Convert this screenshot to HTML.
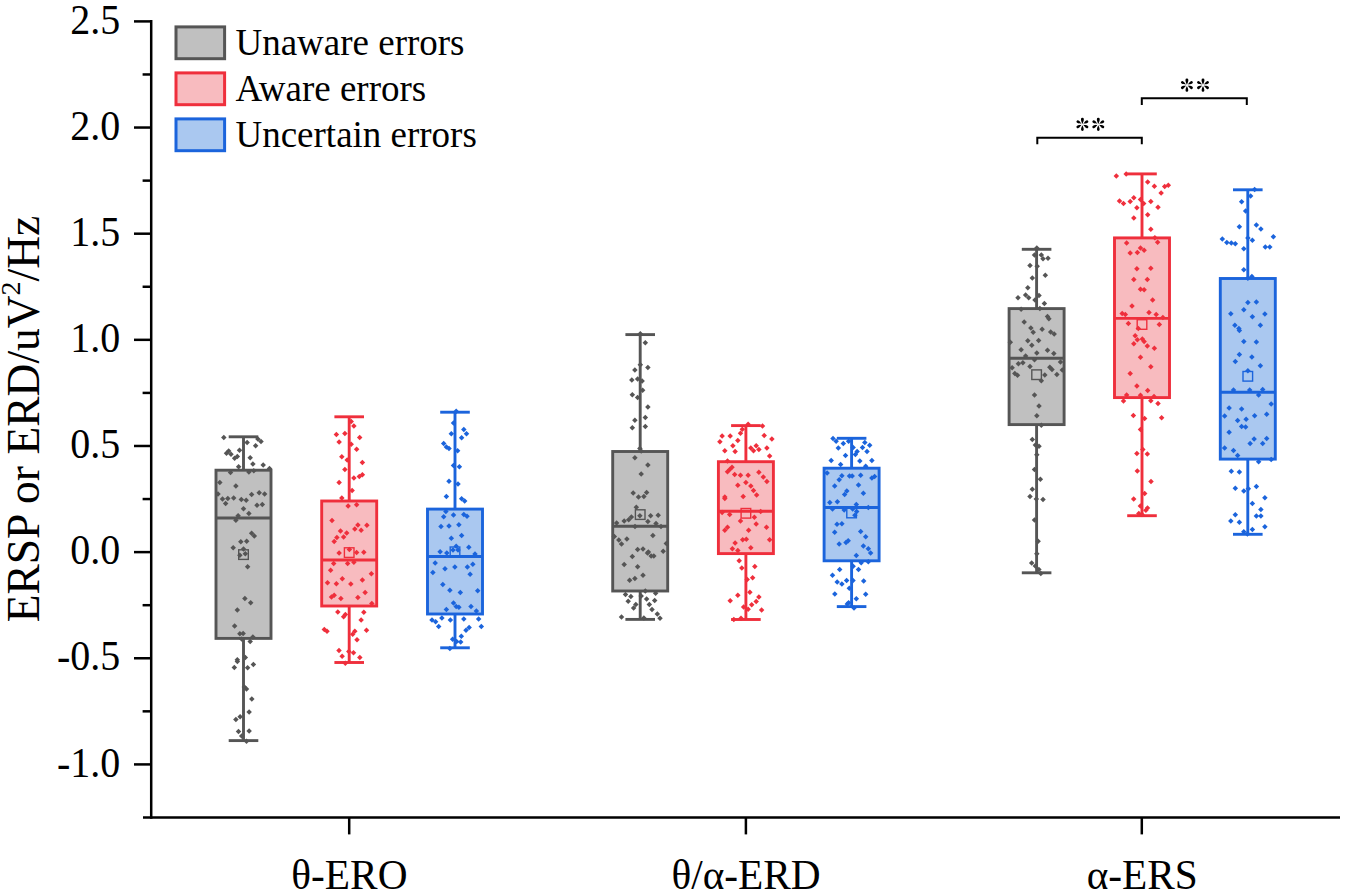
<!DOCTYPE html><html><head><meta charset="utf-8"><style>html,body{margin:0;padding:0;background:#fff;overflow:hidden}svg{display:block}text{font-family:"Liberation Serif",serif;fill:#000}</style></head><body>
<svg width="1350" height="893" viewBox="0 0 1350 893">
<defs><path id="dm" d="M0,-2.75L2.75,0L0,2.75L-2.75,0Z"/><g id="st"><path d="M0,-0.3 C-0.5,-1.8 -1.5,-3.6 -1.45,-5.15 A1.45,1.45 0 0 1 1.45,-5.15 C1.5,-3.6 0.5,-1.8 0,-0.3Z" transform="rotate(0)"/><path d="M0,-1 C-0.5,-2.3 -1.45,-3.9 -1.35,-5.3 A1.35,1.35 0 0 1 1.35,-5.3 C1.45,-3.9 0.5,-2.3 0,-1Z" transform="rotate(60)"/><path d="M0,-1 C-0.5,-2.3 -1.45,-3.9 -1.35,-5.3 A1.35,1.35 0 0 1 1.35,-5.3 C1.45,-3.9 0.5,-2.3 0,-1Z" transform="rotate(120)"/><path d="M0,-1 C-0.5,-2.3 -1.45,-3.9 -1.35,-5.3 A1.35,1.35 0 0 1 1.35,-5.3 C1.45,-3.9 0.5,-2.3 0,-1Z" transform="rotate(180)"/><path d="M0,-1 C-0.5,-2.3 -1.45,-3.9 -1.35,-5.3 A1.35,1.35 0 0 1 1.35,-5.3 C1.45,-3.9 0.5,-2.3 0,-1Z" transform="rotate(240)"/><path d="M0,-1 C-0.5,-2.3 -1.45,-3.9 -1.35,-5.3 A1.35,1.35 0 0 1 1.35,-5.3 C1.45,-3.9 0.5,-2.3 0,-1Z" transform="rotate(300)"/></g></defs>
<g stroke="#555555" stroke-width="2.9" fill="none">
<line x1="243.5" y1="436.8" x2="243.5" y2="740.6"/>
<line x1="228.7" y1="436.8" x2="258.3" y2="436.8"/>
<line x1="228.7" y1="740.6" x2="258.3" y2="740.6"/>
<rect x="216.0" y="470.2" width="55.0" height="168.2" fill="#c0c0c0"/>
<line x1="216.0" y1="518.0" x2="271.0" y2="518.0"/>
</g>
<g fill="#555555"><use href="#dm" x="223.8" y="437.6"/><use href="#dm" x="257.9" y="439"/><use href="#dm" x="261" y="441.6"/><use href="#dm" x="247.1" y="442.5"/><use href="#dm" x="255.6" y="445.7"/><use href="#dm" x="239.5" y="450.2"/><use href="#dm" x="228.7" y="451.1"/><use href="#dm" x="226.5" y="453.3"/><use href="#dm" x="231" y="454.2"/><use href="#dm" x="234.6" y="458.2"/><use href="#dm" x="237.3" y="456.4"/><use href="#dm" x="250.2" y="457.8"/><use href="#dm" x="252.9" y="464"/><use href="#dm" x="263.2" y="464.9"/><use href="#dm" x="238.6" y="466.7"/><use href="#dm" x="269.5" y="468.5"/><use href="#dm" x="230.5" y="472.6"/><use href="#dm" x="248.9" y="472.1"/><use href="#dm" x="253.8" y="470.8"/><use href="#dm" x="219.8" y="482.4"/><use href="#dm" x="235.9" y="486"/><use href="#dm" x="218" y="494"/><use href="#dm" x="251.6" y="494.5"/><use href="#dm" x="259.2" y="492.7"/><use href="#dm" x="264.6" y="494"/><use href="#dm" x="222.5" y="499"/><use href="#dm" x="227.8" y="498.5"/><use href="#dm" x="233.7" y="498.1"/><use href="#dm" x="225.6" y="503.5"/><use href="#dm" x="241.3" y="499.4"/><use href="#dm" x="246.2" y="500.3"/><use href="#dm" x="257" y="505.3"/><use href="#dm" x="262.3" y="504.4"/><use href="#dm" x="243.5" y="508.8"/><use href="#dm" x="248.9" y="513.5"/><use href="#dm" x="238.1" y="515.7"/><use href="#dm" x="235.9" y="520.2"/><use href="#dm" x="251.6" y="533.2"/><use href="#dm" x="254.3" y="535.9"/><use href="#dm" x="240.8" y="541.7"/><use href="#dm" x="246.7" y="541.3"/><use href="#dm" x="233.2" y="547.8"/><use href="#dm" x="243.5" y="548.9"/><use href="#dm" x="239.9" y="555.2"/><use href="#dm" x="245.3" y="553.8"/><use href="#dm" x="247.6" y="566.8"/><use href="#dm" x="244.9" y="598.4"/><use href="#dm" x="250.7" y="602.8"/><use href="#dm" x="237.3" y="610"/><use href="#dm" x="234.6" y="626.1"/><use href="#dm" x="239.9" y="633.8"/><use href="#dm" x="243.1" y="633.6"/><use href="#dm" x="252.9" y="636.9"/><use href="#dm" x="250.2" y="641.4"/><use href="#dm" x="241.7" y="639.1"/><use href="#dm" x="245.3" y="657.5"/><use href="#dm" x="237.3" y="659.7"/><use href="#dm" x="237.4" y="661.4"/><use href="#dm" x="234.3" y="667.6"/><use href="#dm" x="247.6" y="667.8"/><use href="#dm" x="253.4" y="664.4"/><use href="#dm" x="244.4" y="686.9"/><use href="#dm" x="246.5" y="689"/><use href="#dm" x="251.8" y="699.1"/><use href="#dm" x="249.1" y="711.9"/><use href="#dm" x="235.9" y="719.4"/><use href="#dm" x="240.1" y="716.7"/><use href="#dm" x="238.5" y="731.6"/><use href="#dm" x="249.1" y="731.1"/><use href="#dm" x="241.7" y="735.9"/><use href="#dm" x="246.5" y="741.2"/></g>
<rect x="238.7" y="549.8" width="9.6" height="9.6" fill="none" stroke="#555555" stroke-width="1.4"/>
<g stroke="#ef2f3c" stroke-width="2.9" fill="none">
<line x1="349.2" y1="416.8" x2="349.2" y2="662.5"/>
<line x1="334.4" y1="416.8" x2="364.0" y2="416.8"/>
<line x1="334.4" y1="662.5" x2="364.0" y2="662.5"/>
<rect x="321.7" y="501.0" width="55.0" height="105.0" fill="#f8bbbf"/>
<line x1="321.7" y1="560.0" x2="376.7" y2="560.0"/>
</g>
<g fill="#ef2f3c"><use href="#dm" x="351.2" y="421.4"/><use href="#dm" x="353.9" y="425.9"/><use href="#dm" x="336.4" y="434.4"/><use href="#dm" x="344.9" y="433.5"/><use href="#dm" x="359.7" y="437.6"/><use href="#dm" x="339.1" y="442"/><use href="#dm" x="351.2" y="444.3"/><use href="#dm" x="356.6" y="449.2"/><use href="#dm" x="341.8" y="456.8"/><use href="#dm" x="347.2" y="460"/><use href="#dm" x="362.4" y="462.6"/><use href="#dm" x="344.9" y="469.4"/><use href="#dm" x="353.9" y="477.9"/><use href="#dm" x="359.3" y="476.5"/><use href="#dm" x="362.4" y="474.7"/><use href="#dm" x="339.1" y="482.4"/><use href="#dm" x="352.1" y="490.4"/><use href="#dm" x="341.8" y="498"/><use href="#dm" x="348.1" y="506.1"/><use href="#dm" x="356.6" y="504.7"/><use href="#dm" x="332" y="520.4"/><use href="#dm" x="357.9" y="524.9"/><use href="#dm" x="366.9" y="525.3"/><use href="#dm" x="354.8" y="528.9"/><use href="#dm" x="361.1" y="530.2"/><use href="#dm" x="340.5" y="531.1"/><use href="#dm" x="346.7" y="532.9"/><use href="#dm" x="343.6" y="537"/><use href="#dm" x="336.9" y="537.4"/><use href="#dm" x="334.2" y="541.4"/><use href="#dm" x="339.1" y="553.1"/><use href="#dm" x="349.4" y="549.5"/><use href="#dm" x="356.6" y="552.6"/><use href="#dm" x="363.8" y="552.2"/><use href="#dm" x="333.7" y="563.5"/><use href="#dm" x="347.6" y="563.5"/><use href="#dm" x="353.9" y="562.2"/><use href="#dm" x="330.6" y="570.2"/><use href="#dm" x="371.4" y="573.8"/><use href="#dm" x="342.3" y="578.7"/><use href="#dm" x="362.4" y="580.1"/><use href="#dm" x="327.5" y="582.8"/><use href="#dm" x="336.4" y="583.7"/><use href="#dm" x="350.8" y="584.1"/><use href="#dm" x="365.1" y="592.6"/><use href="#dm" x="334.2" y="595.3"/><use href="#dm" x="331.5" y="597.1"/><use href="#dm" x="340.9" y="598.5"/><use href="#dm" x="357.9" y="597.6"/><use href="#dm" x="371.8" y="603.4"/><use href="#dm" x="337.8" y="611.9"/><use href="#dm" x="345.4" y="614.6"/><use href="#dm" x="343.6" y="616.8"/><use href="#dm" x="363.8" y="612.3"/><use href="#dm" x="361.1" y="620"/><use href="#dm" x="324.3" y="629.4"/><use href="#dm" x="327" y="631.2"/><use href="#dm" x="354.8" y="631.2"/><use href="#dm" x="366.5" y="630.3"/><use href="#dm" x="352.7" y="634.3"/><use href="#dm" x="357" y="639.8"/><use href="#dm" x="339" y="650.4"/><use href="#dm" x="348.8" y="651.5"/><use href="#dm" x="353.5" y="652.7"/><use href="#dm" x="342.1" y="656.2"/><use href="#dm" x="359.8" y="657.4"/><use href="#dm" x="345.3" y="663.3"/></g>
<rect x="344.4" y="547.8" width="9.6" height="9.6" fill="none" stroke="#ef2f3c" stroke-width="1.4"/>
<g stroke="#1b64dc" stroke-width="2.9" fill="none">
<line x1="455.0" y1="412.2" x2="455.0" y2="647.8"/>
<line x1="440.2" y1="412.2" x2="469.8" y2="412.2"/>
<line x1="440.2" y1="647.8" x2="469.8" y2="647.8"/>
<rect x="427.5" y="509.1" width="55.0" height="104.89999999999998" fill="#aac8f0"/>
<line x1="427.5" y1="556.5" x2="482.5" y2="556.5"/>
</g>
<g fill="#1b64dc"><use href="#dm" x="456.2" y="411.3"/><use href="#dm" x="453.5" y="422.9"/><use href="#dm" x="451.3" y="433.7"/><use href="#dm" x="463.8" y="429.6"/><use href="#dm" x="466.5" y="433.7"/><use href="#dm" x="461.6" y="437.7"/><use href="#dm" x="443.7" y="443.5"/><use href="#dm" x="446.4" y="447.1"/><use href="#dm" x="449" y="448.5"/><use href="#dm" x="457.6" y="450.7"/><use href="#dm" x="453.5" y="465.5"/><use href="#dm" x="459.4" y="466.8"/><use href="#dm" x="449" y="481.2"/><use href="#dm" x="458" y="483.9"/><use href="#dm" x="446.4" y="496.6"/><use href="#dm" x="461.6" y="498.8"/><use href="#dm" x="464.7" y="501.1"/><use href="#dm" x="445.9" y="511.4"/><use href="#dm" x="443.7" y="516.7"/><use href="#dm" x="453.5" y="514.9"/><use href="#dm" x="463.8" y="514.5"/><use href="#dm" x="467" y="516.3"/><use href="#dm" x="441" y="526.6"/><use href="#dm" x="449" y="526.1"/><use href="#dm" x="458.9" y="524.8"/><use href="#dm" x="461.6" y="535.6"/><use href="#dm" x="451.3" y="538.2"/><use href="#dm" x="456.2" y="546.3"/><use href="#dm" x="468.8" y="547.2"/><use href="#dm" x="440.1" y="551.7"/><use href="#dm" x="446.8" y="553"/><use href="#dm" x="453" y="550"/><use href="#dm" x="458" y="550"/><use href="#dm" x="475" y="553.9"/><use href="#dm" x="435.2" y="563"/><use href="#dm" x="445" y="568.8"/><use href="#dm" x="454.9" y="567"/><use href="#dm" x="467.4" y="567"/><use href="#dm" x="472.8" y="564.3"/><use href="#dm" x="432.9" y="572.4"/><use href="#dm" x="470.1" y="574.2"/><use href="#dm" x="442.8" y="584.5"/><use href="#dm" x="449.9" y="590.3"/><use href="#dm" x="460.3" y="592.6"/><use href="#dm" x="477.7" y="590.8"/><use href="#dm" x="453.5" y="602.9"/><use href="#dm" x="456.2" y="606.5"/><use href="#dm" x="458.9" y="607.3"/><use href="#dm" x="471" y="606.5"/><use href="#dm" x="446.4" y="609.6"/><use href="#dm" x="476.4" y="610.9"/><use href="#dm" x="432" y="619.9"/><use href="#dm" x="435.6" y="621.7"/><use href="#dm" x="441.9" y="618.1"/><use href="#dm" x="450.4" y="619.9"/><use href="#dm" x="463.8" y="619"/><use href="#dm" x="478.6" y="619"/><use href="#dm" x="438.7" y="626.6"/><use href="#dm" x="481.3" y="626.6"/><use href="#dm" x="469.1" y="627.5"/><use href="#dm" x="466" y="630.2"/><use href="#dm" x="461.3" y="636.3"/><use href="#dm" x="452.6" y="639.3"/><use href="#dm" x="456.6" y="641.6"/><use href="#dm" x="460.7" y="642"/><use href="#dm" x="449.9" y="648.4"/></g>
<rect x="450.2" y="547.0" width="9.6" height="9.6" fill="none" stroke="#1b64dc" stroke-width="1.4"/>
<g stroke="#555555" stroke-width="2.9" fill="none">
<line x1="640.2" y1="334.6" x2="640.2" y2="619.4"/>
<line x1="625.4000000000001" y1="334.6" x2="655.0" y2="334.6"/>
<line x1="625.4000000000001" y1="619.4" x2="655.0" y2="619.4"/>
<rect x="612.7" y="451.5" width="55.0" height="139.5" fill="#c0c0c0"/>
<line x1="612.7" y1="526.2" x2="667.7" y2="526.2"/>
</g>
<g fill="#555555"><use href="#dm" x="640.3" y="333.8"/><use href="#dm" x="645.3" y="342.8"/><use href="#dm" x="640.3" y="364.7"/><use href="#dm" x="647.9" y="367.4"/><use href="#dm" x="634.9" y="370.1"/><use href="#dm" x="631.8" y="380"/><use href="#dm" x="637.6" y="379.1"/><use href="#dm" x="642.1" y="380.9"/><use href="#dm" x="642.6" y="390.3"/><use href="#dm" x="632.3" y="394.8"/><use href="#dm" x="637.6" y="397.4"/><use href="#dm" x="647.9" y="406.9"/><use href="#dm" x="645.3" y="417.5"/><use href="#dm" x="634.9" y="420.2"/><use href="#dm" x="632.3" y="427.8"/><use href="#dm" x="645.3" y="426.4"/><use href="#dm" x="639.9" y="448.4"/><use href="#dm" x="641.2" y="451.1"/><use href="#dm" x="634.9" y="457.8"/><use href="#dm" x="647.9" y="465"/><use href="#dm" x="641.2" y="473.9"/><use href="#dm" x="633.2" y="492.9"/><use href="#dm" x="646.6" y="492.5"/><use href="#dm" x="643.9" y="496.5"/><use href="#dm" x="638.5" y="497"/><use href="#dm" x="636.3" y="507.3"/><use href="#dm" x="639.9" y="515.8"/><use href="#dm" x="650.6" y="515.8"/><use href="#dm" x="658.2" y="515.3"/><use href="#dm" x="624.2" y="521.1"/><use href="#dm" x="628.7" y="519.8"/><use href="#dm" x="631.4" y="517.1"/><use href="#dm" x="616.6" y="522.9"/><use href="#dm" x="647.9" y="521.6"/><use href="#dm" x="656" y="523.4"/><use href="#dm" x="635" y="526.5"/><use href="#dm" x="661" y="526.5"/><use href="#dm" x="614.3" y="536.4"/><use href="#dm" x="652.9" y="535.5"/><use href="#dm" x="618.8" y="540"/><use href="#dm" x="621.5" y="544"/><use href="#dm" x="626.9" y="539.1"/><use href="#dm" x="666.3" y="543.5"/><use href="#dm" x="637.6" y="549.4"/><use href="#dm" x="643" y="548.9"/><use href="#dm" x="648.4" y="552.1"/><use href="#dm" x="663.2" y="551.2"/><use href="#dm" x="647.5" y="552.9"/><use href="#dm" x="651.1" y="556.1"/><use href="#dm" x="653.8" y="556.1"/><use href="#dm" x="632.3" y="556.5"/><use href="#dm" x="624.2" y="564.6"/><use href="#dm" x="637.6" y="566.8"/><use href="#dm" x="643" y="575.3"/><use href="#dm" x="634.9" y="578.5"/><use href="#dm" x="629.6" y="580.3"/><use href="#dm" x="625.5" y="594.6"/><use href="#dm" x="630.9" y="596.4"/><use href="#dm" x="645.3" y="591"/><use href="#dm" x="655.6" y="593.3"/><use href="#dm" x="641.2" y="596"/><use href="#dm" x="646.6" y="599.1"/><use href="#dm" x="654.7" y="600.4"/><use href="#dm" x="628.2" y="601.3"/><use href="#dm" x="635.8" y="604.5"/><use href="#dm" x="633.6" y="608"/><use href="#dm" x="649.3" y="604.5"/><use href="#dm" x="652" y="609.4"/><use href="#dm" x="657.3" y="613.9"/><use href="#dm" x="660" y="618.3"/><use href="#dm" x="621.5" y="617"/><use href="#dm" x="643.9" y="617.9"/></g>
<rect x="635.4" y="509.8" width="9.6" height="9.6" fill="none" stroke="#555555" stroke-width="1.4"/>
<g stroke="#ef2f3c" stroke-width="2.9" fill="none">
<line x1="745.9" y1="425.6" x2="745.9" y2="619.5"/>
<line x1="731.1" y1="425.6" x2="760.6999999999999" y2="425.6"/>
<line x1="731.1" y1="619.5" x2="760.6999999999999" y2="619.5"/>
<rect x="718.4" y="461.7" width="55.0" height="91.90000000000003" fill="#f8bbbf"/>
<line x1="718.4" y1="511.3" x2="773.4" y2="511.3"/>
</g>
<g fill="#ef2f3c"><use href="#dm" x="762.5" y="425.9"/><use href="#dm" x="748.1" y="424.3"/><use href="#dm" x="742.3" y="429.2"/><use href="#dm" x="740.5" y="433.2"/><use href="#dm" x="722.1" y="435.9"/><use href="#dm" x="730.2" y="435.9"/><use href="#dm" x="764.2" y="435.5"/><use href="#dm" x="771.9" y="439.1"/><use href="#dm" x="719.9" y="441.7"/><use href="#dm" x="737.8" y="440.4"/><use href="#dm" x="732.9" y="445.8"/><use href="#dm" x="750.8" y="448"/><use href="#dm" x="756.2" y="445.8"/><use href="#dm" x="758.9" y="449.4"/><use href="#dm" x="753.5" y="450.7"/><use href="#dm" x="766.9" y="448"/><use href="#dm" x="724.8" y="450.7"/><use href="#dm" x="735.1" y="451.6"/><use href="#dm" x="769.6" y="456.1"/><use href="#dm" x="727.5" y="461"/><use href="#dm" x="732" y="467.3"/><use href="#dm" x="729.7" y="469.5"/><use href="#dm" x="727.5" y="471.8"/><use href="#dm" x="734.7" y="474.5"/><use href="#dm" x="740.5" y="475.3"/><use href="#dm" x="748.1" y="475.3"/><use href="#dm" x="758.9" y="472.2"/><use href="#dm" x="763.3" y="477.1"/><use href="#dm" x="766.9" y="481.6"/><use href="#dm" x="745.9" y="482.5"/><use href="#dm" x="737.8" y="485.2"/><use href="#dm" x="750.8" y="486.1"/><use href="#dm" x="753.5" y="490.6"/><use href="#dm" x="756.6" y="495.1"/><use href="#dm" x="743.2" y="496.4"/><use href="#dm" x="724.8" y="496.9"/><use href="#dm" x="724.8" y="498.5"/><use href="#dm" x="722.1" y="512.4"/><use href="#dm" x="729.7" y="514.6"/><use href="#dm" x="760.7" y="511.5"/><use href="#dm" x="754.4" y="517.3"/><use href="#dm" x="740.5" y="520.9"/><use href="#dm" x="756.2" y="524"/><use href="#dm" x="766.5" y="527.2"/><use href="#dm" x="727.5" y="527.2"/><use href="#dm" x="724.8" y="530.3"/><use href="#dm" x="748.6" y="530.3"/><use href="#dm" x="742.7" y="539.7"/><use href="#dm" x="746.3" y="539.3"/><use href="#dm" x="769.6" y="539.7"/><use href="#dm" x="735.1" y="542.9"/><use href="#dm" x="732.4" y="548.7"/><use href="#dm" x="750.8" y="547.8"/><use href="#dm" x="737.8" y="550.5"/><use href="#dm" x="739.2" y="560.8"/><use href="#dm" x="741.8" y="568"/><use href="#dm" x="754.8" y="566.6"/><use href="#dm" x="752.6" y="577.8"/><use href="#dm" x="747.2" y="579.6"/><use href="#dm" x="749.9" y="592.2"/><use href="#dm" x="737.8" y="595.3"/><use href="#dm" x="730.2" y="600.7"/><use href="#dm" x="758.9" y="597.1"/><use href="#dm" x="756.2" y="601.6"/><use href="#dm" x="751.7" y="604.7"/><use href="#dm" x="743.6" y="607"/><use href="#dm" x="748.1" y="609.2"/><use href="#dm" x="761.6" y="610.1"/><use href="#dm" x="733.8" y="619.5"/><use href="#dm" x="741" y="618.2"/></g>
<rect x="741.1" y="508.5" width="9.6" height="9.6" fill="none" stroke="#ef2f3c" stroke-width="1.4"/>
<g stroke="#1b64dc" stroke-width="2.9" fill="none">
<line x1="851.6" y1="438.3" x2="851.6" y2="606.6"/>
<line x1="836.8000000000001" y1="438.3" x2="866.4" y2="438.3"/>
<line x1="836.8000000000001" y1="606.6" x2="866.4" y2="606.6"/>
<rect x="824.1" y="468.2" width="55.0" height="92.59999999999997" fill="#aac8f0"/>
<line x1="824.1" y1="507.5" x2="879.1" y2="507.5"/>
</g>
<g fill="#1b64dc"><use href="#dm" x="833" y="438.5"/><use href="#dm" x="836.1" y="441.2"/><use href="#dm" x="843.3" y="443.4"/><use href="#dm" x="838.3" y="447.9"/><use href="#dm" x="848.6" y="441.2"/><use href="#dm" x="853.1" y="447.5"/><use href="#dm" x="864.8" y="442.5"/><use href="#dm" x="869.7" y="445.2"/><use href="#dm" x="862.5" y="447.5"/><use href="#dm" x="857.1" y="451.5"/><use href="#dm" x="855.4" y="454.6"/><use href="#dm" x="867" y="451.5"/><use href="#dm" x="845.5" y="455.5"/><use href="#dm" x="831.2" y="460.5"/><use href="#dm" x="859.8" y="460.9"/><use href="#dm" x="871.9" y="460.5"/><use href="#dm" x="840.6" y="464.5"/><use href="#dm" x="865.7" y="466.3"/><use href="#dm" x="827.1" y="473"/><use href="#dm" x="841.9" y="475.7"/><use href="#dm" x="839.2" y="479.7"/><use href="#dm" x="849.5" y="476.1"/><use href="#dm" x="852.2" y="476.1"/><use href="#dm" x="860.7" y="475.3"/><use href="#dm" x="871.9" y="477.9"/><use href="#dm" x="874.6" y="476.6"/><use href="#dm" x="834.7" y="486"/><use href="#dm" x="858.5" y="485.1"/><use href="#dm" x="846.8" y="490.9"/><use href="#dm" x="844.6" y="494.5"/><use href="#dm" x="863.4" y="493.2"/><use href="#dm" x="829.8" y="502.6"/><use href="#dm" x="837.4" y="501.7"/><use href="#dm" x="856.3" y="504.4"/><use href="#dm" x="832.5" y="509"/><use href="#dm" x="844.2" y="509.9"/><use href="#dm" x="852.7" y="509"/><use href="#dm" x="856.7" y="511.6"/><use href="#dm" x="854.9" y="515.2"/><use href="#dm" x="868.3" y="507.6"/><use href="#dm" x="837" y="524.2"/><use href="#dm" x="841.9" y="523.7"/><use href="#dm" x="834.7" y="532.3"/><use href="#dm" x="860.7" y="531.4"/><use href="#dm" x="865.7" y="536.7"/><use href="#dm" x="848.2" y="540.8"/><use href="#dm" x="846" y="542.5"/><use href="#dm" x="839.2" y="543.9"/><use href="#dm" x="863.4" y="546.1"/><use href="#dm" x="868.3" y="548.8"/><use href="#dm" x="870.6" y="552.9"/><use href="#dm" x="856.3" y="555.6"/><use href="#dm" x="861.2" y="562.7"/><use href="#dm" x="868.3" y="561.8"/><use href="#dm" x="853.1" y="566.3"/><use href="#dm" x="858.5" y="569.4"/><use href="#dm" x="839.7" y="569.4"/><use href="#dm" x="832.5" y="575.3"/><use href="#dm" x="837.2" y="581.9"/><use href="#dm" x="841.9" y="583.9"/><use href="#dm" x="846.6" y="580.5"/><use href="#dm" x="853" y="580.5"/><use href="#dm" x="863.7" y="580.9"/><use href="#dm" x="849.3" y="588.2"/><use href="#dm" x="834.8" y="594"/><use href="#dm" x="865.7" y="594.3"/><use href="#dm" x="856.3" y="598.7"/><use href="#dm" x="848.6" y="602.7"/><use href="#dm" x="847.3" y="604"/><use href="#dm" x="854" y="608.1"/></g>
<rect x="846.8" y="508.2" width="9.6" height="9.6" fill="none" stroke="#1b64dc" stroke-width="1.4"/>
<g stroke="#555555" stroke-width="2.9" fill="none">
<line x1="1036.6" y1="249.3" x2="1036.6" y2="572.8"/>
<line x1="1021.8" y1="249.3" x2="1051.3999999999999" y2="249.3"/>
<line x1="1021.8" y1="572.8" x2="1051.3999999999999" y2="572.8"/>
<rect x="1009.0999999999999" y="308.6" width="55.0" height="116.0" fill="#c0c0c0"/>
<line x1="1009.0999999999999" y1="358.2" x2="1064.1" y2="358.2"/>
</g>
<g fill="#555555"><use href="#dm" x="1036.8" y="247.9"/><use href="#dm" x="1034.5" y="255.1"/><use href="#dm" x="1041.3" y="255.1"/><use href="#dm" x="1043" y="258.7"/><use href="#dm" x="1048" y="258.2"/><use href="#dm" x="1030" y="265.4"/><use href="#dm" x="1037.2" y="266.3"/><use href="#dm" x="1045.3" y="275.3"/><use href="#dm" x="1032.3" y="278"/><use href="#dm" x="1027.8" y="287.8"/><use href="#dm" x="1025.6" y="295"/><use href="#dm" x="1028.7" y="297.7"/><use href="#dm" x="1018" y="297.7"/><use href="#dm" x="1039" y="295.4"/><use href="#dm" x="1035" y="299.9"/><use href="#dm" x="1044.4" y="303.5"/><use href="#dm" x="1021.1" y="309.3"/><use href="#dm" x="1039.9" y="308.4"/><use href="#dm" x="1047.5" y="316.5"/><use href="#dm" x="1048.9" y="318.7"/><use href="#dm" x="1024.2" y="321.9"/><use href="#dm" x="1030.9" y="327.9"/><use href="#dm" x="1033.2" y="332.3"/><use href="#dm" x="1042.1" y="329.2"/><use href="#dm" x="1050.7" y="331.9"/><use href="#dm" x="1054.2" y="334.1"/><use href="#dm" x="1027.8" y="340.8"/><use href="#dm" x="1038.6" y="340.4"/><use href="#dm" x="1031.8" y="345.3"/><use href="#dm" x="1010.3" y="342.2"/><use href="#dm" x="1021.1" y="349.8"/><use href="#dm" x="1047.5" y="350.3"/><use href="#dm" x="1036.8" y="352.9"/><use href="#dm" x="1053.8" y="353.4"/><use href="#dm" x="1025.6" y="356.1"/><use href="#dm" x="1034.5" y="359.7"/><use href="#dm" x="1018.4" y="363.7"/><use href="#dm" x="1022.9" y="362.8"/><use href="#dm" x="1030" y="366.4"/><use href="#dm" x="1012.1" y="367.7"/><use href="#dm" x="1060.5" y="361.9"/><use href="#dm" x="1049.8" y="367.3"/><use href="#dm" x="1052" y="369.5"/><use href="#dm" x="1014.8" y="373.6"/><use href="#dm" x="1017.5" y="375.3"/><use href="#dm" x="1044.8" y="374.9"/><use href="#dm" x="1056.9" y="374.5"/><use href="#dm" x="1062.3" y="370"/><use href="#dm" x="1041.3" y="380.7"/><use href="#dm" x="1034.5" y="395.1"/><use href="#dm" x="1039" y="406"/><use href="#dm" x="1036.8" y="415.8"/><use href="#dm" x="1041.3" y="425.3"/><use href="#dm" x="1032.3" y="439.6"/><use href="#dm" x="1035.4" y="445"/><use href="#dm" x="1039" y="446.3"/><use href="#dm" x="1036.8" y="454.8"/><use href="#dm" x="1034.5" y="469.6"/><use href="#dm" x="1040.4" y="479.3"/><use href="#dm" x="1032.3" y="489.2"/><use href="#dm" x="1030" y="496.4"/><use href="#dm" x="1036.3" y="499"/><use href="#dm" x="1043" y="499.5"/><use href="#dm" x="1034.5" y="520.1"/><use href="#dm" x="1038.1" y="541.2"/><use href="#dm" x="1036.8" y="553.8"/><use href="#dm" x="1031.7" y="562.9"/><use href="#dm" x="1035.3" y="565.9"/><use href="#dm" x="1038.9" y="569.5"/><use href="#dm" x="1040.8" y="573.5"/></g>
<rect x="1031.8" y="369.9" width="9.6" height="9.6" fill="none" stroke="#555555" stroke-width="1.4"/>
<g stroke="#ef2f3c" stroke-width="2.9" fill="none">
<line x1="1142.0" y1="173.9" x2="1142.0" y2="515.7"/>
<line x1="1127.2" y1="173.9" x2="1156.8" y2="173.9"/>
<line x1="1127.2" y1="515.7" x2="1156.8" y2="515.7"/>
<rect x="1114.5" y="237.9" width="55.0" height="159.70000000000002" fill="#f8bbbf"/>
<line x1="1114.5" y1="318.4" x2="1169.5" y2="318.4"/>
</g>
<g fill="#ef2f3c"><use href="#dm" x="1116.3" y="175.9"/><use href="#dm" x="1126.2" y="173.9"/><use href="#dm" x="1147.7" y="182.1"/><use href="#dm" x="1154.4" y="186.2"/><use href="#dm" x="1164.7" y="186.6"/><use href="#dm" x="1168.3" y="185.3"/><use href="#dm" x="1161.1" y="192.9"/><use href="#dm" x="1119.5" y="200.9"/><use href="#dm" x="1123.5" y="203.6"/><use href="#dm" x="1130.2" y="201.4"/><use href="#dm" x="1133.8" y="197.8"/><use href="#dm" x="1140.5" y="199.6"/><use href="#dm" x="1143.7" y="203.6"/><use href="#dm" x="1150.8" y="201.4"/><use href="#dm" x="1136.9" y="207.7"/><use href="#dm" x="1158" y="207.2"/><use href="#dm" x="1147.7" y="214.8"/><use href="#dm" x="1133.8" y="218"/><use href="#dm" x="1150.8" y="229.2"/><use href="#dm" x="1154.9" y="237.7"/><use href="#dm" x="1157.6" y="242.2"/><use href="#dm" x="1126.6" y="243.1"/><use href="#dm" x="1140.5" y="248.1"/><use href="#dm" x="1144.1" y="250.3"/><use href="#dm" x="1130.2" y="253"/><use href="#dm" x="1137.4" y="252.5"/><use href="#dm" x="1136.9" y="268.7"/><use href="#dm" x="1150.8" y="268.2"/><use href="#dm" x="1133.8" y="279.4"/><use href="#dm" x="1147.3" y="279.4"/><use href="#dm" x="1140.5" y="289.3"/><use href="#dm" x="1144.1" y="289.7"/><use href="#dm" x="1152.6" y="300"/><use href="#dm" x="1132" y="305.9"/><use href="#dm" x="1122.2" y="313.5"/><use href="#dm" x="1125.3" y="314.4"/><use href="#dm" x="1149" y="312.6"/><use href="#dm" x="1156.2" y="314.4"/><use href="#dm" x="1162.9" y="317.5"/><use href="#dm" x="1128.4" y="323.6"/><use href="#dm" x="1159.3" y="324.5"/><use href="#dm" x="1138.3" y="328.6"/><use href="#dm" x="1135.2" y="335.7"/><use href="#dm" x="1137.4" y="339.8"/><use href="#dm" x="1133.8" y="343.8"/><use href="#dm" x="1142.3" y="338.9"/><use href="#dm" x="1144.1" y="341.6"/><use href="#dm" x="1147.3" y="346"/><use href="#dm" x="1154.4" y="348.3"/><use href="#dm" x="1140.5" y="357.3"/><use href="#dm" x="1150.8" y="366.7"/><use href="#dm" x="1130.2" y="373.4"/><use href="#dm" x="1136.9" y="385.9"/><use href="#dm" x="1147.7" y="390.4"/><use href="#dm" x="1126.6" y="394.9"/><use href="#dm" x="1140.5" y="395.3"/><use href="#dm" x="1154" y="396.6"/><use href="#dm" x="1123.5" y="401.1"/><use href="#dm" x="1150.8" y="400.7"/><use href="#dm" x="1158" y="403.4"/><use href="#dm" x="1133.4" y="415.5"/><use href="#dm" x="1144.6" y="418.6"/><use href="#dm" x="1161.6" y="417.7"/><use href="#dm" x="1140.5" y="429.4"/><use href="#dm" x="1136.9" y="453.5"/><use href="#dm" x="1147.3" y="454"/><use href="#dm" x="1142.8" y="449.5"/><use href="#dm" x="1137.3" y="471.1"/><use href="#dm" x="1151" y="481.6"/><use href="#dm" x="1144.7" y="493.4"/><use href="#dm" x="1133.7" y="498.9"/><use href="#dm" x="1140.4" y="505.9"/><use href="#dm" x="1147.5" y="507.9"/><use href="#dm" x="1145.9" y="510.3"/><use href="#dm" x="1138.8" y="513.4"/><use href="#dm" x="1142" y="514.6"/></g>
<rect x="1137.2" y="319.7" width="9.6" height="9.6" fill="none" stroke="#ef2f3c" stroke-width="1.4"/>
<g stroke="#1b64dc" stroke-width="2.9" fill="none">
<line x1="1247.8" y1="189.8" x2="1247.8" y2="534.3"/>
<line x1="1233.0" y1="189.8" x2="1262.6" y2="189.8"/>
<line x1="1233.0" y1="534.3" x2="1262.6" y2="534.3"/>
<rect x="1220.3" y="278.5" width="55.0" height="180.60000000000002" fill="#aac8f0"/>
<line x1="1220.3" y1="392.2" x2="1275.3" y2="392.2"/>
</g>
<g fill="#1b64dc"><use href="#dm" x="1254.6" y="189.6"/><use href="#dm" x="1250.6" y="195.9"/><use href="#dm" x="1241.6" y="201.7"/><use href="#dm" x="1245.6" y="211.1"/><use href="#dm" x="1239.4" y="226.8"/><use href="#dm" x="1256.4" y="225"/><use href="#dm" x="1260.9" y="229"/><use href="#dm" x="1273.4" y="236.7"/><use href="#dm" x="1222.3" y="238.9"/><use href="#dm" x="1226.8" y="242.5"/><use href="#dm" x="1231.3" y="242.9"/><use href="#dm" x="1235.3" y="243.8"/><use href="#dm" x="1247.9" y="238"/><use href="#dm" x="1252.4" y="240.2"/><use href="#dm" x="1243.8" y="248.8"/><use href="#dm" x="1265.3" y="247"/><use href="#dm" x="1269.8" y="247"/><use href="#dm" x="1243.8" y="269.8"/><use href="#dm" x="1247.9" y="278.3"/><use href="#dm" x="1251.9" y="276.5"/><use href="#dm" x="1247.9" y="302.5"/><use href="#dm" x="1256.4" y="302"/><use href="#dm" x="1243.8" y="309.7"/><use href="#dm" x="1230.8" y="313.7"/><use href="#dm" x="1252.4" y="316.8"/><use href="#dm" x="1264.9" y="314.1"/><use href="#dm" x="1234.9" y="325.3"/><use href="#dm" x="1238.9" y="328.5"/><use href="#dm" x="1260.4" y="325.3"/><use href="#dm" x="1239.4" y="330.4"/><use href="#dm" x="1243.8" y="341.6"/><use href="#dm" x="1256.4" y="342.1"/><use href="#dm" x="1239.4" y="354.6"/><use href="#dm" x="1251.9" y="356.9"/><use href="#dm" x="1235.3" y="361.4"/><use href="#dm" x="1260.4" y="365.8"/><use href="#dm" x="1247.9" y="370.8"/><use href="#dm" x="1233.5" y="390"/><use href="#dm" x="1249.7" y="390"/><use href="#dm" x="1262.7" y="389.6"/><use href="#dm" x="1258.6" y="395"/><use href="#dm" x="1271.2" y="403.9"/><use href="#dm" x="1229.1" y="408"/><use href="#dm" x="1241.6" y="408.9"/><use href="#dm" x="1224.6" y="416.1"/><use href="#dm" x="1254.6" y="415.7"/><use href="#dm" x="1266.7" y="414.3"/><use href="#dm" x="1237.6" y="420.6"/><use href="#dm" x="1246.1" y="419.3"/><use href="#dm" x="1241.6" y="426.4"/><use href="#dm" x="1245.6" y="426.9"/><use href="#dm" x="1229.1" y="432.3"/><use href="#dm" x="1254.1" y="439"/><use href="#dm" x="1250.1" y="443.5"/><use href="#dm" x="1266.7" y="438.5"/><use href="#dm" x="1262.7" y="443.5"/><use href="#dm" x="1224.6" y="447.9"/><use href="#dm" x="1233.5" y="450.6"/><use href="#dm" x="1237.6" y="455.6"/><use href="#dm" x="1258.6" y="461.8"/><use href="#dm" x="1271.2" y="459.6"/><use href="#dm" x="1231.3" y="471.2"/><use href="#dm" x="1239.4" y="472.1"/><use href="#dm" x="1256.4" y="486.5"/><use href="#dm" x="1235.3" y="488.3"/><use href="#dm" x="1243.8" y="491"/><use href="#dm" x="1248.3" y="488.7"/><use href="#dm" x="1264.9" y="497.7"/><use href="#dm" x="1252.4" y="503.5"/><use href="#dm" x="1260.9" y="509.4"/><use href="#dm" x="1235.3" y="514.7"/><use href="#dm" x="1256.4" y="516.1"/><use href="#dm" x="1260.9" y="516.1"/><use href="#dm" x="1230.8" y="521"/><use href="#dm" x="1239.4" y="522.3"/><use href="#dm" x="1264.9" y="526.8"/><use href="#dm" x="1252.4" y="529.5"/><use href="#dm" x="1243.8" y="531.8"/><use href="#dm" x="1247.4" y="534"/></g>
<rect x="1243.0" y="371.5" width="9.6" height="9.6" fill="none" stroke="#1b64dc" stroke-width="1.4"/>
<g stroke="#000" stroke-width="2.5" fill="none">
<line x1="151.2" y1="20" x2="151.2" y2="818.8"/>
<line x1="143" y1="817.6" x2="1340" y2="817.6"/>
<line x1="134" y1="21.40" x2="151" y2="21.40"/>
<line x1="142.6" y1="74.47" x2="151" y2="74.47"/>
<line x1="134" y1="127.54" x2="151" y2="127.54"/>
<line x1="142.6" y1="180.62" x2="151" y2="180.62"/>
<line x1="134" y1="233.69" x2="151" y2="233.69"/>
<line x1="142.6" y1="286.76" x2="151" y2="286.76"/>
<line x1="134" y1="339.83" x2="151" y2="339.83"/>
<line x1="142.6" y1="392.91" x2="151" y2="392.91"/>
<line x1="134" y1="445.98" x2="151" y2="445.98"/>
<line x1="142.6" y1="499.05" x2="151" y2="499.05"/>
<line x1="134" y1="552.12" x2="151" y2="552.12"/>
<line x1="142.6" y1="605.20" x2="151" y2="605.20"/>
<line x1="134" y1="658.27" x2="151" y2="658.27"/>
<line x1="142.6" y1="711.34" x2="151" y2="711.34"/>
<line x1="134" y1="764.41" x2="151" y2="764.41"/>
<line x1="349.2" y1="817" x2="349.2" y2="834.4"/>
<line x1="745.9" y1="817" x2="745.9" y2="834.4"/>
<line x1="1141.8" y1="817" x2="1141.8" y2="834.4"/>
</g>
<text transform="translate(120.3,33.60) scale(1,1.08)" font-size="40" text-anchor="end">2.5</text>
<text transform="translate(120.3,139.74) scale(1,1.08)" font-size="40" text-anchor="end">2.0</text>
<text transform="translate(120.3,245.89) scale(1,1.08)" font-size="40" text-anchor="end">1.5</text>
<text transform="translate(120.3,352.03) scale(1,1.08)" font-size="40" text-anchor="end">1.0</text>
<text transform="translate(120.3,458.18) scale(1,1.08)" font-size="40" text-anchor="end">0.5</text>
<text transform="translate(120.3,564.33) scale(1,1.08)" font-size="40" text-anchor="end">0.0</text>
<text transform="translate(120.3,670.47) scale(1,1.08)" font-size="40" text-anchor="end">-0.5</text>
<text transform="translate(120.3,776.62) scale(1,1.08)" font-size="40" text-anchor="end">-1.0</text>
<text x="349.4" y="888.8" font-size="41.3" text-anchor="middle">θ-ERO</text>
<text x="746" y="888.8" font-size="41.3" text-anchor="middle">θ/α-ERD</text>
<text x="1142.2" y="888.8" font-size="41.3" text-anchor="middle">α-ERS</text>
<text transform="translate(38.7,419) rotate(-90)" font-size="45.5" text-anchor="middle">ERSP or ERD/uV<tspan font-size="28" dy="-18.5">2</tspan><tspan dy="18.5">/Hz</tspan></text>
<rect x="176" y="26.9" width="48.6" height="31.8" fill="#c0c0c0" stroke="#555555" stroke-width="3"/>
<text transform="translate(235.5,55.3) scale(1,1.03)" font-size="37">Unaware errors</text>
<rect x="176" y="72.9" width="48.6" height="31.8" fill="#f8bbbf" stroke="#ef2f3c" stroke-width="3"/>
<text transform="translate(235.5,100.9) scale(1,1.03)" font-size="37">Aware errors</text>
<rect x="176" y="118.9" width="48.6" height="31.8" fill="#aac8f0" stroke="#1b64dc" stroke-width="3"/>
<text transform="translate(235.5,147.4) scale(1,1.03)" font-size="37">Uncertain errors</text>
<g stroke="#000" stroke-width="2" fill="none">
<path d="M1037.3,144.2V137.7H1141.8V144.2"/>
<path d="M1141.8,105V98.2H1246.8V105"/>
</g>
<use href="#st" x="1082.4" y="124.3"/>
<use href="#st" x="1098.3" y="124.3"/>
<use href="#st" x="1186.9" y="85.1"/>
<use href="#st" x="1203" y="85.1"/>
</svg></body></html>
